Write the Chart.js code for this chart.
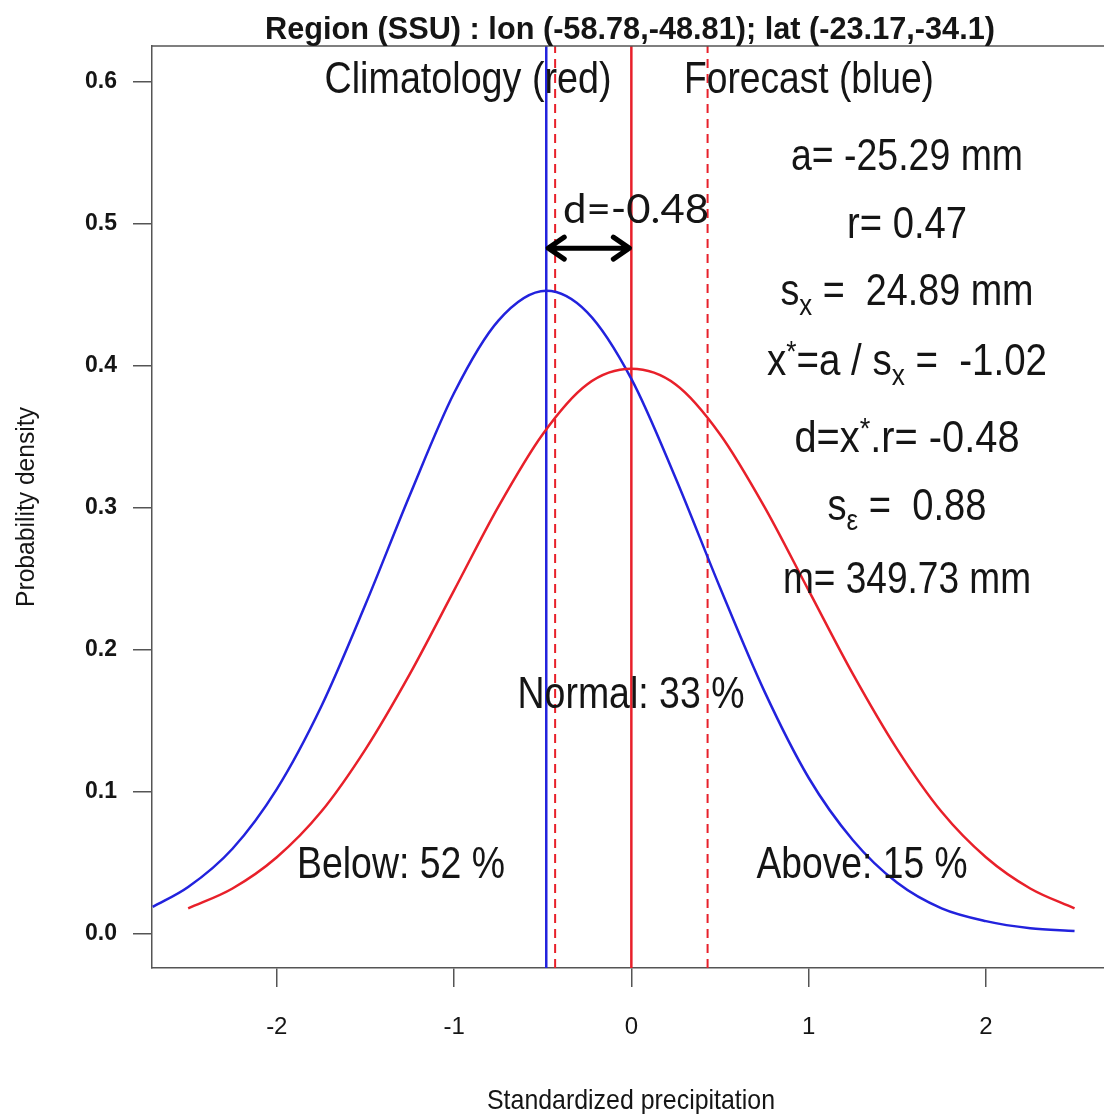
<!DOCTYPE html>
<html>
<head>
<meta charset="utf-8">
<script src="https://cdn.jsdelivr.net/npm/chart.js@4.4.1/dist/chart.umd.min.js"></script>
<style>
  html, body { margin: 0; padding: 0; background: #fff; overflow: hidden; }
  #wrap { position: relative; width: 1130px; height: 1114px; }
</style>
</head>
<body>
<div id="wrap"><canvas id="pdfChart"></canvas></div>
<script>
// climatology curve (red)
const climX = [-2.5, -2.25, -2, -1.75, -1.5, -1.25, -1, -0.75, -0.5, -0.25, 0, 0.25, 0.5, 0.75, 1, 1.25, 1.5, 1.75, 2, 2.25, 2.5];
const climY = [0.018, 0.032, 0.054, 0.086, 0.130, 0.183, 0.242, 0.301, 0.352, 0.387, 0.398, 0.387, 0.352, 0.301, 0.242, 0.183, 0.130, 0.086, 0.054, 0.032, 0.018];

// forecast curve (blue)
const fcstX = [-2.7, -2.5, -2.25, -2, -1.75, -1.5, -1.25, -1, -0.75, -0.48, -0.25, 0, 0.25, 0.5, 0.75, 1, 1.25, 1.5, 1.75, 2, 2.25, 2.5];
const fcstY = [0.019, 0.033, 0.060, 0.102, 0.160, 0.232, 0.309, 0.381, 0.432, 0.453, 0.438, 0.391, 0.321, 0.244, 0.171, 0.110, 0.066, 0.036, 0.018, 0.009, 0.004, 0.002];

// vertical reference lines
const climMean = 0;
const fcstMean = -0.48;
const terciles = [-0.43, 0.43];
const arrowLevel = 0.483;

// axes
const xTicks = [-2, -1, 0, 1, 2];
const yTicks = [0, 0.1, 0.2, 0.3, 0.4, 0.5, 0.6];
const xRange = [-2.704, 2.70];
const yRange = [-0.024, 0.6254];

const RED = '#e8202a';
const BLUE = '#2222dd';
const INK = '#151515';

function pts(xs, ys) {
    return xs.map((x, i) => ({ x: x, y: ys[i] }));
}
function vline(x) {
    return [{ x: x, y: yRange[0] }, { x: x, y: yRange[1] }];
}

// draw a run of text pieces squeezed to a given width, centred on cx,cy
function fitText(ctx, parts, cx, cy, targetW, family) {
    family = family || '"Liberation Sans", Arial, sans-serif';
    let natural = 0;
    parts.forEach(p => {
        ctx.font = (p.bold ? 'bold ' : '') + p.size + 'px ' + family;
        p.w = ctx.measureText(p.t).width;
        natural += p.w;
    });
    const s = targetW / natural;
    ctx.save();
    ctx.translate(cx, cy);
    ctx.scale(s, 1);
    ctx.textBaseline = 'alphabetic';
    ctx.textAlign = 'left';
    ctx.fillStyle = INK;
    let x = -natural / 2;
    parts.forEach(p => {
        ctx.font = (p.bold ? 'bold ' : '') + p.size + 'px ' + family;
        ctx.fillText(p.t, x, p.dy || 0);
        x += p.w;
    });
    ctx.restore();
}

const B = 44, SUB = 30;

const annotations = {
    id: 'annotations',
    afterDraw(chart) {
        const ctx = chart.ctx;
        const area = chart.chartArea;
        const xs = chart.scales.x, ys = chart.scales.y;

        // top border of the box
        ctx.save();
        ctx.strokeStyle = '#555';
        ctx.lineWidth = 1.5;
        ctx.beginPath();
        ctx.moveTo(area.left, area.top);
        ctx.lineTo(area.right, area.top);
        ctx.lineTo(area.right, area.bottom);
        ctx.stroke();
        ctx.restore();

        // title
        fitText(ctx, [{ t: 'Region (SSU) : lon (-58.78,-48.81); lat (-23.17,-34.1)', size: 32, bold: true }], 630, 39, 730);

        fitText(ctx, [{ t: 'Climatology (red)', size: B }], 468, 93, 287);
        fitText(ctx, [{ t: 'Forecast (blue)', size: B }], 809, 93, 250);

        // statistics block
        const cx = 907;
        fitText(ctx, [{ t: 'a= -25.29 mm', size: B }], cx, 170, 232);
        fitText(ctx, [{ t: 'r= 0.47', size: B }], cx, 238, 120);
        fitText(ctx, [{ t: 's', size: B }, { t: 'x', size: SUB, dy: 10 }, { t: ' =  24.89 mm', size: B }], cx, 305, 253);
        fitText(ctx, [{ t: 'x', size: B }, { t: '*', size: SUB, dy: -14 }, { t: '=a / s', size: B }, { t: 'x', size: SUB, dy: 10 }, { t: ' =  -1.02', size: B }], cx, 375, 280);
        fitText(ctx, [{ t: 'd=x', size: B }, { t: '*', size: SUB, dy: -14 }, { t: '.r= -0.48', size: B }], cx, 452, 225);
        fitText(ctx, [{ t: 's', size: B }, { t: 'ε', size: SUB, dy: 10 }, { t: ' =  0.88', size: B }], cx, 520, 159);
        fitText(ctx, [{ t: 'm= 349.73 mm', size: B }], cx, 593, 248);

        // category probabilities
        fitText(ctx, [{ t: 'Normal: 33 %', size: B }], 631, 708, 227);
        fitText(ctx, [{ t: 'Below: 52 %', size: B }], 401, 878, 208);
        fitText(ctx, [{ t: 'Above: 15 %', size: B }], 862, 878, 211);

        // axis titles
        fitText(ctx, [{ t: 'Standardized precipitation', size: 28 }], 631, 1109, 288);
        ctx.save();
        ctx.translate(34, 507);
        ctx.rotate(-Math.PI / 2);
        fitText(ctx, [{ t: 'Probability density', size: 26 }], 0, 0, 200);
        ctx.restore();

        // shift arrow
        const x1 = xs.getPixelForValue(fcstMean);
        const x2 = xs.getPixelForValue(climMean);
        const y = ys.getPixelForValue(arrowLevel);
        ctx.save();
        ctx.strokeStyle = '#000';
        ctx.lineWidth = 5;
        ctx.lineCap = 'round';
        ctx.lineJoin = 'round';
        ctx.beginPath();
        ctx.moveTo(x1 + 2, y);
        ctx.lineTo(x2 - 2, y);
        ctx.moveTo(x1 + 18, y - 11);
        ctx.lineTo(x1 + 2, y);
        ctx.lineTo(x1 + 18, y + 11);
        ctx.moveTo(x2 - 18, y - 11);
        ctx.lineTo(x2 - 2, y);
        ctx.lineTo(x2 - 18, y + 11);
        ctx.stroke();
        ctx.restore();
        fitText(ctx, [{ t: 'd=-0.48', size: 40 }], 636, 223, 146, 'Lato, "Open Sans", sans-serif');
    }
};

const ctx = document.getElementById('pdfChart').getContext('2d');
const pdfChart = new Chart(ctx, {
    type: 'line',
    data: {
        datasets: [
            { data: pts(climX, climY), borderColor: RED, borderWidth: 2.5, cubicInterpolationMode: 'monotone' },
            { data: pts(fcstX, fcstY), borderColor: BLUE, borderWidth: 2.5, cubicInterpolationMode: 'monotone' },
            { data: vline(fcstMean), borderColor: BLUE, borderWidth: 2.5 },
            { data: vline(climMean), borderColor: RED, borderWidth: 2.5 },
            { data: vline(terciles[0]), borderColor: RED, borderWidth: 2, borderDash: [9, 6] },
            { data: vline(terciles[1]), borderColor: RED, borderWidth: 2, borderDash: [9, 6] }
        ]
    },
    options: {
        responsive: true,
        maintainAspectRatio: false,
        animation: false,
        elements: { point: { radius: 0 } },
        layout: { padding: { top: 46, right: 20, left: 0, bottom: 0 } },
        plugins: {
            legend: { display: false },
            tooltip: { enabled: false }
        },
        scales: {
            x: {
                type: 'linear',
                min: xRange[0],
                max: xRange[1],
                afterBuildTicks: s => { s.ticks = xTicks.map(v => ({ value: v })); },
                afterFit: s => { s.height = 146; },
                grid: { drawOnChartArea: false, drawTicks: true, tickLength: 19, color: '#555', lineWidth: 1.5 },
                border: { display: true, color: '#555', width: 1.5 },
                ticks: {
                    color: INK,
                    padding: 26,
                    maxRotation: 0,
                    font: { family: '"Liberation Sans", Arial, sans-serif', size: 24 },
                    callback: v => String(v)
                }
            },
            y: {
                type: 'linear',
                min: yRange[0],
                max: yRange[1],
                afterBuildTicks: s => { s.ticks = yTicks.map(v => ({ value: v })); },
                afterFit: s => { s.width = 152; },
                grid: { drawOnChartArea: false, drawTicks: true, tickLength: 19, color: '#555', lineWidth: 1.5 },
                border: { display: true, color: '#555', width: 1.5 },
                ticks: {
                    color: INK,
                    padding: 16,
                    font: { family: '"Liberation Sans", Arial, sans-serif', size: 23, weight: 'bold' },
                    callback: v => Number(v).toFixed(1)
                }
            }
        }
    },
    plugins: [annotations]
});
</script>
</body>
</html>
